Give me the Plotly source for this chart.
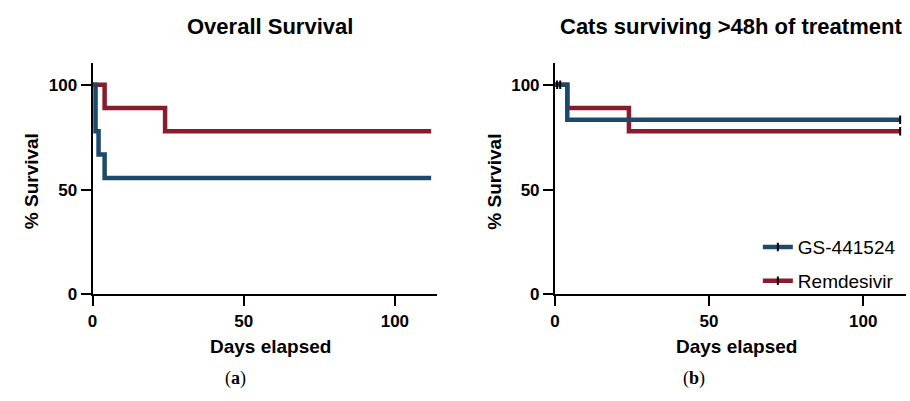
import plotly.graph_objects as go

# ---------------- data ----------------
series_names = ["GS-441524", "Remdesivir"]

# (a) Overall survival
a_gs_days = [0, 1, 2, 4, 112]
a_gs_surv = [100, 77.8, 66.7, 55.6, 55.6]
a_rem_days = [0, 4, 24, 112]
a_rem_surv = [100, 88.9, 77.8, 77.8]

# (b) Cats surviving >48h of treatment
b_gs_days = [0, 4, 112]
b_gs_surv = [100, 83.3, 83.3]
b_rem_days = [0, 4, 24, 112]
b_rem_surv = [100, 88.9, 77.8, 77.8]

# censored observations in (b)
b_cens_days = [0.7, 1.7, 112, 112]
b_cens_surv = [100, 100, 83.3, 77.8]

x_ticks = [0, 50, 100]
y_ticks = [0, 50, 100]

titles = ["Overall Survival", "Cats surviving >48h of treatment"]
x_title = "Days elapsed"
y_title = "% Survival"
captions = ["(<b>a</b>)", "(<b>b</b>)"]

BLUE = "#1d4a6b"
RED = "#891b2d"
SANS = "Arial, Liberation Sans, sans-serif"
W, H = 910, 401

def px(x):
    return x / W

def py(y):
    return 1 - y / H

fig = go.Figure()

# panel a
fig.add_trace(go.Scatter(x=a_rem_days, y=a_rem_surv, mode="lines", line=dict(color=RED, width=4.5, shape="hv"),
                         showlegend=False, xaxis="x", yaxis="y"))
fig.add_trace(go.Scatter(x=a_gs_days, y=a_gs_surv, mode="lines", line=dict(color=BLUE, width=4.5, shape="hv"),
                         showlegend=False, xaxis="x", yaxis="y"))
# panel b
fig.add_trace(go.Scatter(x=b_rem_days, y=b_rem_surv, mode="lines", line=dict(color=RED, width=4.5, shape="hv"),
                         showlegend=False, xaxis="x2", yaxis="y2"))
fig.add_trace(go.Scatter(x=b_gs_days, y=b_gs_surv, mode="lines", line=dict(color=BLUE, width=4.5, shape="hv"),
                         showlegend=False, xaxis="x2", yaxis="y2"))
fig.add_trace(go.Scatter(x=b_cens_days, y=b_cens_surv, mode="markers",
                         marker=dict(symbol="line-ns", size=6, line=dict(color="black", width=2)),
                         showlegend=False, xaxis="x2", yaxis="y2"))

# legend entries
for name, col in zip(series_names, [BLUE, RED]):
    fig.add_trace(go.Scatter(x=[None], y=[None], mode="lines+markers", name=name, legendgroup=name,
                             line=dict(color=col, width=4.5),
                             marker=dict(symbol="line-ns", size=6, color="black", line=dict(color="black", width=2)),
                             xaxis="x2", yaxis="y2"))

x0a, x1a = 88, 434.6
x0b, x1b = 553, 906
ytop, ybot = 65, 302

axis_common = dict(showline=True, linecolor="black", linewidth=2, ticks="outside", ticklen=10, tickwidth=2,
                   tickcolor="black", showgrid=False, zeroline=False,
                   tickfont=dict(family=SANS, size=17, color="black", weight="bold"))

fig.update_layout(
    width=W, height=H, margin=dict(l=0, r=0, t=0, b=0),
    plot_bgcolor="white", paper_bgcolor="white",
    xaxis=dict(domain=[px(x0a), px(x1a)], range=[0, 114], tickvals=x_ticks, anchor="y", **axis_common),
    yaxis=dict(domain=[py(ybot), py(ytop)], range=[0, 110.2], tickvals=y_ticks, anchor="x", **axis_common),
    xaxis2=dict(domain=[px(x0b), px(x1b)], range=[0, 113.9], tickvals=x_ticks, anchor="y2", **axis_common),
    yaxis2=dict(domain=[py(ybot), py(ytop)], range=[0, 110.2], tickvals=y_ticks, anchor="x2", **axis_common),
    legend=dict(x=px(757), y=py(234), xanchor="left", yanchor="top", bgcolor="rgba(0,0,0,0)",
                font=dict(family=SANS, size=19, color="black"), itemwidth=30, tracegroupgap=6,
                traceorder="grouped"),
    showlegend=True,
)

ann = []
for cx, t in zip([266, 730], titles):
    ann.append(dict(x=px(cx), y=py(27), xref="paper", yref="paper", text=f"<b>{t}</b>", showarrow=False,
                    font=dict(family=SANS, size=22, color="black"), xanchor="center", yanchor="middle"))
for cx in [267, 736]:
    ann.append(dict(x=px(cx), y=py(355), xref="paper", yref="paper", text=f"<b>{x_title}</b>", showarrow=False,
                    font=dict(family=SANS, size=19, color="black"), xanchor="center", yanchor="middle"))
for cx in [27, 492]:
    ann.append(dict(x=px(cx), y=py(186), xref="paper", yref="paper", text=f"<b>{y_title}</b>", showarrow=False,
                    textangle=-90, font=dict(family=SANS, size=19, color="black"), xanchor="center", yanchor="middle"))
for cx, c in zip([232, 693], captions):
    ann.append(dict(x=px(cx), y=py(388), xref="paper", yref="paper", text=c, showarrow=False,
                    font=dict(family="Liberation Serif, serif", size=18, color="black"), xanchor="center", yanchor="middle"))
fig.update_layout(annotations=ann)

fig.write_html("out.html", config={"displayModeBar": False},
               post_script="document.body.style.margin='0';document.body.style.overflow='hidden';")
